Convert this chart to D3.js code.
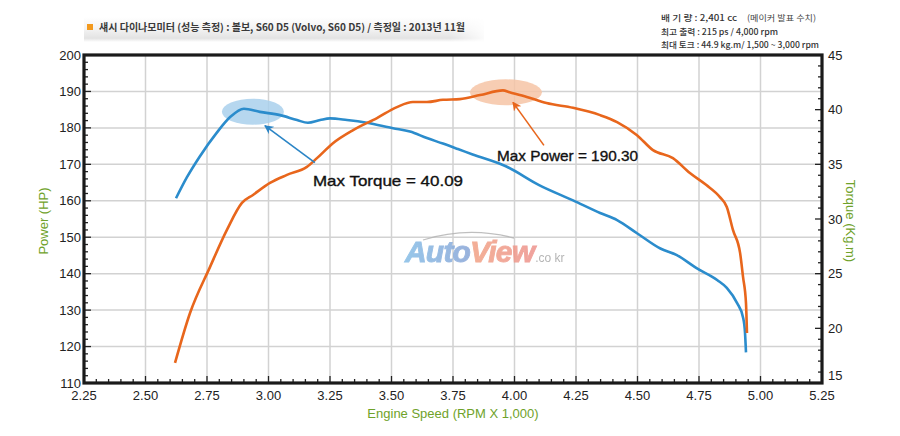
<!DOCTYPE html>
<html><head><meta charset="utf-8">
<script src="https://cdn.jsdelivr.net/npm/d3@7"></script>
<style>
html,body{margin:0;padding:0;background:#fff;}
svg{display:block;font-family:Arial,"Liberation Sans",sans-serif;}
</style></head>
<body>
<svg id="chart" width="900" height="436"></svg>
<script>
// ---- data ----
const xTicks = [2.25,2.50,2.75,3.00,3.25,3.50,3.75,4.00,4.25,4.50,4.75,5.00,5.25];
const powerTicks = [110,120,130,140,150,160,170,180,190,200];
const torqueTicks = [15,20,25,30,35,40,45];

const powerRpm = [2.62,2.681,2.762,2.831,2.892,2.937,3.006,3.075,3.156,3.197,3.262,3.344,3.441,3.522,3.587,3.644,3.709,3.778,3.86,3.953,3.98,4.05,4.13,4.238,4.348,4.417,4.498,4.563,4.644,4.713,4.78,4.835,4.863,4.888,4.917,4.929,4.941,4.945];
const powerHP  = [115.5,129.2,141.8,152.0,159.4,161.6,164.9,167.1,169.3,171.7,175.8,179.4,182.7,185.7,187.1,187.1,187.7,187.9,189.0,190.3,189.8,188.5,186.8,185.5,183.5,181.6,178.0,173.9,171.7,167.6,164.3,161.0,158.3,152.0,145.7,139.1,131.9,123.7];

const torqueRpm = [2.624,2.668,2.72,2.79,2.843,2.9,2.965,3.047,3.116,3.16,3.21,3.25,3.319,3.40,3.506,3.575,3.644,3.709,3.77,3.83,3.967,4.10,4.238,4.348,4.417,4.498,4.593,4.66,4.74,4.825,4.863,4.905,4.929,4.937,4.941];
const torqueKgm = [31.9,33.8,35.7,37.9,39.3,40.09,39.8,39.5,39.05,38.8,39.05,39.2,39.05,38.8,38.3,38.0,37.4,36.9,36.4,35.9,34.8,33.1,31.7,30.55,29.9,28.7,27.3,26.7,25.5,24.4,23.7,22.3,21.0,19.6,17.8];

const maxTorque = {rpm:2.9, value:40.09, label:"Max Torque = 40.09"};
const maxPower  = {rpm:3.953, value:190.30, label:"Max Power = 190.30"};

const titleText = "섀시 다이나모미터 (성능 측정) : 볼보, S60 D5 (Volvo, S60 D5) / 측정일 : 2013년 11월";
const specLines = ["배 기 량 : 2,401 cc", "최고 출력 : 215 ps / 4,000 rpm", "최대 토크 : 44.9 kg.m/ 1,500 ~ 3,000 rpm"];
const specNote = "(메이커 발표 수치)";

// ---- layout ----
const L = 84, R = 822, T = 55, B = 383;
const svg = d3.select("#chart");
const x = d3.scaleLinear().domain([2.25,5.25]).range([L,R]);
const yP = d3.scaleLinear().domain([110,200]).range([B,T]);
const yT = d3.scaleLinear().domain([15,45]).range([B,T]);

const defs = svg.append("defs");
const hg = defs.append("linearGradient").attr("id","hdr").attr("x1",0).attr("y1",0).attr("x2",0).attr("y2",1);
hg.append("stop").attr("offset","0%").attr("stop-color","#ffffff");
hg.append("stop").attr("offset","50%").attr("stop-color","#f2f2f2");
hg.append("stop").attr("offset","85%").attr("stop-color","#e3e3e3");
hg.append("stop").attr("offset","100%").attr("stop-color","#ffffff");
const hgx = defs.append("linearGradient").attr("id","hdrmask").attr("x1",0).attr("y1",0).attr("x2",1).attr("y2",0);
hgx.append("stop").attr("offset","0%").attr("stop-color","#fff").attr("stop-opacity",1);
hgx.append("stop").attr("offset","90%").attr("stop-color","#fff").attr("stop-opacity",1);
hgx.append("stop").attr("offset","100%").attr("stop-color","#fff").attr("stop-opacity",0);
defs.append("mask").attr("id","hm").append("rect").attr("x",80).attr("y",14).attr("width",410).attr("height",30).attr("fill","url(#hdrmask)");

const autoG = defs.append("linearGradient").attr("id","autoG").attr("x1",0).attr("y1",0).attr("x2",1).attr("y2",0);
autoG.append("stop").attr("offset","0%").attr("stop-color","#86bde6");
autoG.append("stop").attr("offset","100%").attr("stop-color","#8b83c2");
const viewG = defs.append("linearGradient").attr("id","viewG").attr("x1",0).attr("y1",0).attr("x2",1).attr("y2",0);
viewG.append("stop").attr("offset","0%").attr("stop-color","#f5b27c");
viewG.append("stop").attr("offset","100%").attr("stop-color","#ec8c90");

function marker(id,color){
  defs.append("marker").attr("id",id).attr("viewBox","0 0 10 10").attr("refX",9).attr("refY",5)
    .attr("markerWidth",9).attr("markerHeight",9).attr("markerUnits","userSpaceOnUse").attr("orient","auto")
    .append("path").attr("d","M0,0 L10,5 L0,10 L3,5 z").attr("fill",color);
}
marker("arB","#2b85c6");
marker("arO","#e8661c");

// header
svg.append("rect").attr("x",84).attr("y",17).attr("width",400).attr("height",25).attr("fill","url(#hdr)").attr("mask","url(#hm)");
svg.append("rect").attr("x",87).attr("y",24).attr("width",6).attr("height",6).attr("fill","#f39a1e");
svg.append("text").attr("x",99).attr("y",31).attr("font-family","'Noto Sans CJK KR',sans-serif").attr("font-size",10)
  .attr("font-weight",700).attr("fill","#3a3a3a").attr("textLength",366).attr("lengthAdjust","spacingAndGlyphs").text(titleText);

const specX = 661;
const specEnds = [737,778,819];
specLines.forEach((s,i)=>{
  svg.append("text").attr("x",specX).attr("y",21+i*13.5).attr("font-family","'Noto Sans CJK KR',sans-serif")
    .attr("font-size",8.5).attr("font-weight",500).attr("fill","#333").attr("textLength",specEnds[i]-specX).attr("lengthAdjust","spacingAndGlyphs").text(s);
});
svg.append("text").attr("x",747).attr("y",21).attr("font-family","'Noto Sans CJK KR',sans-serif")
  .attr("font-size",8.5).attr("fill","#444").attr("textLength",69).attr("lengthAdjust","spacingAndGlyphs").text(specNote);

// grid
const gridX = xTicks.slice(1,-1);
svg.append("g").selectAll("line").data(gridX).join("line")
  .attr("x1",d=>x(d)).attr("x2",d=>x(d)).attr("y1",T).attr("y2",B).attr("stroke","#d2d2d2").attr("stroke-width",1.5);
svg.append("g").selectAll("line").data(powerTicks.slice(1,-1)).join("line")
  .attr("x1",L).attr("x2",R).attr("y1",d=>yP(d)).attr("y2",d=>yP(d)).attr("stroke","#d2d2d2").attr("stroke-width",1.5);

// watermark (decoration)
const wm = svg.append("g").attr("opacity",0.85);
wm.append("path").attr("d","M423,240 Q468,226 514,238")
  .attr("fill","none").attr("stroke","#b5b5b5").attr("stroke-width",1.3);
const wt = wm.append("text").attr("x",405).attr("y",262).attr("font-family","Arial,'Liberation Sans',sans-serif")
  .attr("font-weight","bold").attr("font-style","italic").attr("font-size",30).attr("letter-spacing",-0.8);
wt.append("tspan").attr("fill","url(#autoG)").attr("stroke","url(#autoG)").attr("stroke-width",0.9).text("Auto");
wt.append("tspan").attr("fill","url(#viewG)").attr("stroke","url(#viewG)").attr("stroke-width",0.9).text("View");
wt.append("tspan").attr("fill","#a8a8a8").attr("font-size",12).attr("font-weight","normal").attr("font-style","normal").attr("dx",1).attr("letter-spacing",0).text(".co kr");

// highlight ellipses
svg.append("ellipse").attr("cx",x(maxTorque.rpm)+9).attr("cy",yT(maxTorque.value)+3).attr("rx",31).attr("ry",13)
  .attr("fill","#a9d0ec").attr("opacity",0.85);
svg.append("ellipse").attr("cx",x(maxPower.rpm)+3).attr("cy",yP(maxPower.value)+2).attr("rx",36).attr("ry",13)
  .attr("fill","#f6c4a6").attr("opacity",0.85);

// lines
const curve = d3.curveMonotoneX;
const lineP = d3.line().x((d,i)=>x(powerRpm[i])).y(d=>yP(d)).curve(curve);
const lineT = d3.line().x((d,i)=>x(torqueRpm[i])).y(d=>yT(d)).curve(curve);
svg.append("path").attr("d",lineT(torqueKgm)).attr("fill","none").attr("stroke","#2b8ccc").attr("stroke-width",2.6).attr("stroke-linejoin","round");
svg.append("path").attr("d",lineP(powerHP)).attr("fill","none").attr("stroke","#e8661c").attr("stroke-width",2.6).attr("stroke-linejoin","round");

// annotations
const tq = {x:x(maxTorque.rpm), y:yT(maxTorque.value)};
svg.append("line").attr("x1",tq.x+71).attr("y1",tq.y+54).attr("x2",tq.x+21).attr("y2",tq.y+17)
  .attr("stroke","#2b85c6").attr("stroke-width",1.6).attr("marker-end","url(#arB)");
svg.append("text").attr("x",313).attr("y",186).attr("font-size",15).attr("fill","#111").attr("stroke","#111").attr("stroke-width",0.35)
  .attr("font-family","Arial,'Liberation Sans',sans-serif").attr("textLength",150).attr("lengthAdjust","spacingAndGlyphs").text(maxTorque.label);
const pw = {x:x(maxPower.rpm), y:yP(maxPower.value)};
svg.append("line").attr("x1",pw.x+41).attr("y1",pw.y+55).attr("x2",pw.x+10).attr("y2",pw.y+12)
  .attr("stroke","#e8661c").attr("stroke-width",1.6).attr("marker-end","url(#arO)");
svg.append("text").attr("x",497).attr("y",161).attr("font-size",15).attr("fill","#111").attr("stroke","#111").attr("stroke-width",0.35)
  .attr("font-family","Arial,'Liberation Sans',sans-serif").attr("textLength",141).attr("lengthAdjust","spacingAndGlyphs").text(maxPower.label);

// axes (inside ticks)
const ax = svg.append("g").attr("stroke","#222");
const xMinor = d3.range(0,61).map(i=>2.25+i*0.05);
ax.selectAll(".xm").data(xMinor).join("line")
  .attr("x1",d=>x(d)).attr("x2",d=>x(d)).attr("y1",B).attr("y2",(d,i)=>B-(i%5===0?7:4)).attr("stroke-width",1.3);
const pMinor = d3.range(110,201,2);
ax.selectAll(".pm").data(pMinor).join("line")
  .attr("y1",d=>yP(d)).attr("y2",d=>yP(d)).attr("x1",L).attr("x2",(d)=>L+((d%10)===0?7:4)).attr("stroke-width",1.3);
const tMinor = d3.range(15,46,1);
ax.selectAll(".tm").data(tMinor).join("line")
  .attr("y1",d=>yT(d)).attr("y2",d=>yT(d)).attr("x1",R).attr("x2",(d)=>R-((d%5)===0?7:4)).attr("stroke-width",1.3);

svg.append("rect").attr("x",L).attr("y",T).attr("width",R-L).attr("height",B-T).attr("fill","none").attr("stroke","#1a1a1a").attr("stroke-width",3.2);

// tick labels
const lab = svg.append("g").attr("font-size",13).attr("fill","#222").attr("font-family","Arial,'Liberation Sans',sans-serif");
lab.selectAll(".xl").data(xTicks).join("text").attr("x",d=>x(d)).attr("y",400).attr("text-anchor","middle").text(d=>d.toFixed(2));
lab.selectAll(".pl").data(powerTicks).join("text").attr("x",L-3).attr("y",d=>yP(d)+4.5).attr("text-anchor","end").text(d=>d);
lab.selectAll(".tl").data(torqueTicks).join("text").attr("x",R+6).attr("y",d=>yT(d)+(d===15?-3:4.5)).attr("text-anchor","start").text(d=>d);

// axis titles
const green = "#6fa22a";
svg.append("text").attr("transform","translate(48,"+((T+B)/2+2)+") rotate(-90)").attr("text-anchor","middle")
  .attr("font-size",13).attr("fill",green).text("Power (HP)");
svg.append("text").attr("transform","translate(846,"+((T+B)/2+2)+") rotate(90)").attr("text-anchor","middle")
  .attr("font-size",13).attr("fill",green).text("Torque (Kg.m)");
svg.append("text").attr("x",(L+R)/2).attr("y",418).attr("text-anchor","middle")
  .attr("font-size",13).attr("fill",green).text("Engine Speed (RPM X 1,000)");
</script>
</body></html>
